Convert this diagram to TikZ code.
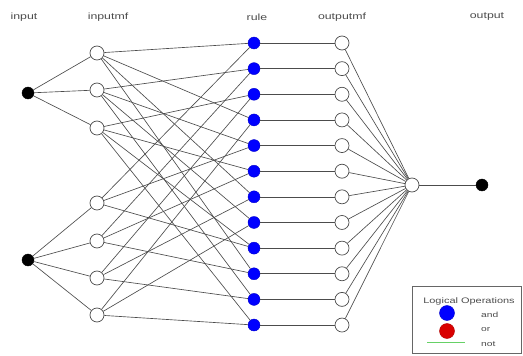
\documentclass[tikz,border=0pt]{standalone}
\usepackage{fontspec}
\setmainfont{Liberation Sans}
\usepackage{graphicx}
\newcommand{\wtxt}[1]{\scalebox{1.37}[1]{#1}}
\begin{document}
\begin{tikzpicture}[x=1pt,y=-1pt,
  lbl/.style={font=\fontsize{9}{10}\selectfont, text=black!70, inner sep=0pt},
  leglbl/.style={font=\fontsize{7.5}{9}\selectfont, text=black!70, inner sep=0pt},
  ionode/.style={circle, fill=black, draw=black, minimum size=12pt, inner sep=0pt},
  mfnode/.style={circle, fill=white, draw=black!70, line width=0.7pt, minimum size=14pt, inner sep=0pt},
  rulenode/.style={circle, fill=blue, draw=blue!80!black, minimum size=12pt, inner sep=0pt},
  conn/.style={draw=black!70, line width=0.65pt}
]
\useasboundingbox (0,0) rectangle (523,356);

% column labels
\node[lbl] (tin) at (24,17) {\wtxt{input}};
\node[lbl] (tinmf) at (108,17) {\wtxt{inputmf}};
\node[lbl] (trule) at (257,17) {\wtxt{rule}};
\node[lbl] (toutmf) at (342,17) {\wtxt{outputmf}};
\node[lbl] (tout) at (487,17) {\wtxt{output}};

% inputs
\node[ionode] (in1) at (28,93) {};
\node[ionode] (in2) at (28,260) {};

% input membership functions
\node[mfnode] (a1) at (97,53) {};
\node[mfnode] (a2) at (97,90) {};
\node[mfnode] (a3) at (97,128) {};
\node[mfnode] (b1) at (97,203) {};
\node[mfnode] (b2) at (97,241) {};
\node[mfnode] (b3) at (97,278) {};
\node[mfnode] (b4) at (97,315) {};

% sum and output
\node[mfnode] (sum) at (412,185) {};
\node[ionode] (out) at (482,185) {};

% rules and output mfs
\foreach \k in {1,...,12}{
  \pgfmathsetmacro{\yy}{43+(\k-1)*25.64}
  \node[rulenode] (r\k) at (254,\yy) {};
  \node[mfnode] (o\k) at (342,\yy) {};
}

% connectors
\foreach \m in {a1,a2,a3}{ \draw[conn] (in1) -- (\m); }
\foreach \m in {b1,b2,b3,b4}{ \draw[conn] (in2) -- (\m); }
\foreach \k in {1,...,12}{
  \pgfmathtruncatemacro{\ia}{mod(\k-1,3)+1}
  \pgfmathtruncatemacro{\ib}{mod(\k-1,4)+1}
  \draw[conn] (a\ia) -- (r\k);
  \draw[conn] (b\ib) -- (r\k);
  \draw[conn] (r\k) -- (o\k);
  \draw[conn] (o\k) -- (sum);
}
\draw[conn] (sum) -- (out);

% legend
\node[draw=black!60, line width=0.7pt, minimum width=109pt, minimum height=67pt, inner sep=0pt, anchor=north west] (legend) at (412,286) {};
\node[leglbl, font=\fontsize{8}{9}\selectfont] (legtitle) at (469,301) {\wtxt{Logical Operations}};
\node[circle, fill=blue, draw=blue!80!black, minimum size=15pt, inner sep=0pt] (legand) at (447,313) {};
\node[circle, fill=red!85!black, draw=red!70!black, minimum size=15pt, inner sep=0pt] (legor) at (447,331) {};
\coordinate (gnota) at (427,342);
\coordinate (gnotb) at (465,342);
\draw[green!70!black!60, line width=0.9pt] (gnota) -- (gnotb);
\node[leglbl, anchor=west] (tand) at (481,315) {\wtxt{and}};
\node[leglbl, anchor=west] (tor) at (481,330) {\wtxt{or}};
\node[leglbl, anchor=west] (tnot) at (481,344) {\wtxt{not}};
\end{tikzpicture}
\end{document}
